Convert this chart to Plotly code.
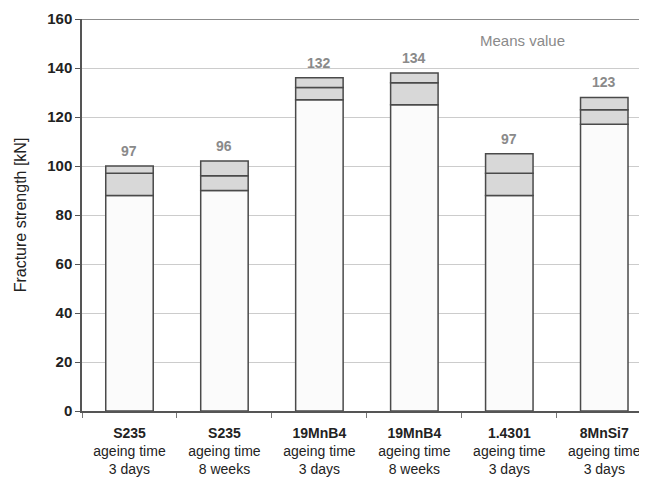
import plotly.graph_objects as go

categories = ["<b>S235</b><br>ageing time<br>3 days",
              "<b>S235</b><br>ageing time<br>8 weeks",
              "<b>19MnB4</b><br>ageing time<br>3 days",
              "<b>19MnB4</b><br>ageing time<br>8 weeks",
              "<b>1.4301</b><br>ageing time<br>3 days",
              "<b>8MnSi7</b><br>ageing time<br>3 days"]
lower_vals = [88, 90, 127, 125, 88, 117]
mean_vals = [97, 96, 132, 134, 97, 123]
upper_vals = [100, 102, 136, 138, 105, 128]
y_ticks = [0, 20, 40, 60, 80, 100, 120, 140, 160]

FONT = "Liberation Sans, Arial"
outline = dict(color="#4a4a4a", width=1.5)

fig = go.Figure()
fig.add_trace(go.Bar(x=categories, y=lower_vals, base=[0]*len(lower_vals),
                     marker=dict(color="#fbfbfb", line=outline), width=0.5))
fig.add_trace(go.Bar(x=categories, y=[m - l for m, l in zip(mean_vals, lower_vals)],
                     base=lower_vals,
                     marker=dict(color="#d8d8d8", line=outline), width=0.5))
fig.add_trace(go.Bar(x=categories, y=[u - m for u, m in zip(upper_vals, mean_vals)],
                     base=mean_vals,
                     marker=dict(color="#d8d8d8", line=outline), width=0.5))

for c, m, u in zip(categories, mean_vals, upper_vals):
    fig.add_annotation(x=c, y=u, text=f"<b>{m}</b>", showarrow=False,
                       yanchor="bottom", yshift=5,
                       font=dict(family=FONT, size=14, color="#8a8a8a"))

# page coords: body margin 8px; plot area x 81.7..647, y 19..411
fig.add_annotation(xref="x domain", yref="y domain",
                   x=(522 - 81.7) / (647 - 81.7), y=(411 - 40) / (411 - 19),
                   xanchor="center", yanchor="middle", text="Means value",
                   showarrow=False,
                   font=dict(family=FONT, size=15, color="#8a8a8a"))

fig.add_shape(type="line", xref="paper", yref="y", x0=0, x1=1, y0=160, y1=160,
              line=dict(color="#8c8c8c", width=2))

fig.update_layout(
    width=639, height=474,
    margin=dict(l=74, r=0, t=11, b=71, autoexpand=False),
    paper_bgcolor="white", plot_bgcolor="white",
    barmode="overlay", showlegend=False,
    font=dict(family=FONT, color="#222222"),
    xaxis=dict(range=[-0.5, 5.45], tickson="boundaries", ticks="outside", ticklen=5,
               tickcolor="#777777", showline=True, linecolor="#555555", linewidth=1.5,
               showgrid=False, tickfont=dict(family=FONT, size=14, color="#222222"),
               tickangle=0, ticklabelstandoff=8),
    yaxis=dict(range=[0, 160], tickvals=y_ticks, ticktext=[f"<b>{t}</b>" for t in y_ticks],
               ticks="outside", ticklen=5, tickcolor="#555555",
               showline=True, linecolor="#555555", linewidth=1.5,
               showgrid=True, gridcolor="#cccccc", gridwidth=1, zeroline=False,
               tickfont=dict(size=15, color="#222222"),
               title=dict(text="Fracture strength [kN]",
                          font=dict(family=FONT, size=16, color="#222222"),
                          standoff=17)),
)

fig.write_html("out.html")
